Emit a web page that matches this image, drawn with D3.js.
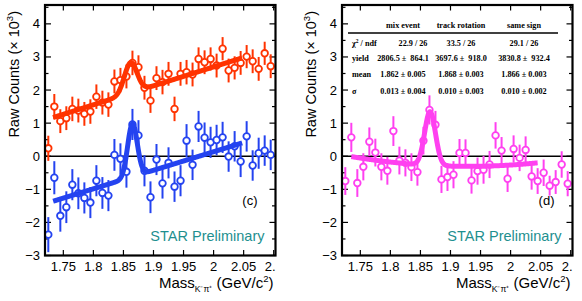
<!DOCTYPE html>
<html>
<head>
<meta charset="utf-8">
<script src="https://cdn.jsdelivr.net/npm/d3@7"></script>
<style>
  body { margin: 0; background: #fff; }
  svg { display: block; }
</style>
</head>
<body>
<script>
// bin centres (GeV/c^2)
var massBins = [1.725,1.735,1.745,1.755,1.765,1.775,1.785,1.795,1.805,1.815,
                1.825,1.835,1.845,1.855,1.865,1.875,1.885,1.895,1.905,1.915,
                1.925,1.935,1.945,1.955,1.965,1.975,1.985,1.995,2.005,2.015,
                2.025,2.035,2.045,2.055,2.065,2.075,2.085,2.095];

// panel (c): same-event (red) and background subtracted (blue), x10^3
var redVals = [0.24,1.50,1.06,1.15,1.43,1.38,1.28,1.35,1.80,1.62,
               1.56,2.26,2.30,2.41,2.82,2.69,2.07,1.68,2.36,2.24,
               2.49,1.43,2.49,2.54,2.47,2.94,2.84,2.94,2.74,3.25,
               2.59,2.67,2.82,3.01,2.87,2.64,3.11,2.72];
var redErr  = [0.38,0.38,0.36,0.36,0.37,0.36,0.36,0.37,0.37,0.36,
               0.37,0.36,0.37,0.36,0.37,0.36,0.36,0.37,0.36,0.37,
               0.36,0.37,0.36,0.37,0.36,0.35,0.36,0.35,0.36,0.35,
               0.36,0.35,0.36,0.35,0.36,0.36,0.35,0.36];
var blueVals = [-2.37,-0.65,-1.80,-1.54,-0.86,-1.12,-1.26,-1.40,-0.74,-1.11,
                -1.19,0.04,-0.08,-0.47,0.96,0.63,-0.44,-1.24,-0.10,-0.82,
                -0.20,-0.92,-0.74,0.47,-0.26,0.90,0.56,0.42,0.49,0.57,
                -0.01,0.30,-0.16,0.60,-0.28,0.09,0.17,0.04];
var blueErr  = [0.53,0.50,0.48,0.48,0.47,0.48,0.47,0.47,0.47,0.48,
                0.47,0.48,0.47,0.48,0.47,0.46,0.47,0.48,0.47,0.46,
                0.47,0.46,0.47,0.50,0.46,0.47,0.46,0.47,0.46,0.47,
                0.46,0.46,0.47,0.46,0.46,0.47,0.46,0.46];

// panel (d): same sign subtracted (magenta)
var magVals = [-0.75,0.57,-0.81,-0.32,0.44,0.11,-0.32,-0.44,0.76,-0.13,
               -0.20,-0.33,-0.48,0.47,1.40,0.95,-0.70,-0.63,-0.56,0.10,
               0.10,-0.73,-0.45,-0.41,-0.25,0.63,0.17,-0.68,0.22,-0.05,
               0.19,-0.61,-0.75,-0.50,-0.89,-0.78,-0.25,-0.83];
var magErr  = [0.42,0.44,0.42,0.41,0.43,0.42,0.41,0.42,0.45,0.42,
               0.41,0.42,0.41,0.42,0.44,0.42,0.41,0.42,0.41,0.42,
               0.41,0.40,0.41,0.42,0.41,0.40,0.41,0.40,0.41,0.40,
               0.41,0.40,0.39,0.40,0.30,0.36,0.40,0.38];

// fit parameters: [x0, bg at x0, slope, curvature, amplitude, mean, sigma, xmin, xmax]
var redFit  = [1.733, 1.17, 5.73, 0,  0.92, 1.862, 0.0105, 1.733, 2.047];
var blueFit = [1.733,-1.36, 5.60, 0,  1.60, 1.865, 0.0080, 1.733, 2.047];
var magFit  = [1.900,-0.30,-0.45, 7.9, 1.62, 1.866, 0.0090, 1.735, 2.045];

var xTicks = [1.75,1.8,1.85,1.9,1.95,2.0,2.05,2.1];
var xTickLabels = ["1.75","1.8","1.85","1.9","1.95","2","2.05","2.1"];
var yTicks = [-3,-2,-1,0,1,2,3,4];
var yMinor = [-2.5,-1.5,-0.5,0.5,1.5,2.5,3.5,4.5];

var tableHeads = ["mix event","track rotation","same sign"];
var tableRows = ["χ2 / ndf","yield","mean","σ"];
var tableCells = [
  ["22.9 / 26","33.5 / 26","29.1 / 26"],
  ["2806.5 ±  864.1","3697.6 ±  918.0","3830.8 ±  932.4"],
  ["1.862 ± 0.005","1.868 ± 0.003","1.866 ± 0.003"],
  ["0.013 ± 0.004","0.010 ± 0.003","0.010 ± 0.002"]
];

var W = 582, H = 301;
var svg = d3.select("body").append("svg").attr("width", W).attr("height", H);

var colRed = "#ff3300", colBlue = "#2443f0", colMag = "#ff40f0", colTeal = "#1e8f8f";
var sans = "'Liberation Sans', Arial, sans-serif";
var serif = "'Liberation Serif', 'Times New Roman', serif";

var y = d3.scaleLinear().domain([-3, 4.57]).range([255.5, 5]);

function fitVal(p, m){
  var dx = m - p[0];
  return p[1] + p[2]*dx + p[3]*dx*dx + p[4]*Math.exp(-0.5*Math.pow((m - p[5])/p[6], 2));
}

function drawPanel(x0, id, series, label){
  var x = d3.scaleLinear().domain([1.7195, 2.103]).range([x0, x0 + 230.5]);
  var g = svg.append("g");
  var L = x.range()[0], R = x.range()[1], T = y.range()[1], B = y.range()[0];

  // zero line
  g.append("line").attr("x1", L).attr("x2", R).attr("y1", y(0)).attr("y2", y(0))
    .attr("stroke", "#000").attr("stroke-width", 1.6);

  // ticks
  var tk = g.append("g").attr("stroke", "#000").attr("stroke-width", 1.2);
  yTicks.forEach(function(v){
    tk.append("line").attr("x1", L).attr("x2", L + 6).attr("y1", y(v)).attr("y2", y(v));
    tk.append("line").attr("x1", R - 6).attr("x2", R).attr("y1", y(v)).attr("y2", y(v));
  });
  yMinor.forEach(function(v){
    if (v > 4.57) return;
    tk.append("line").attr("x1", L).attr("x2", L + 3.5).attr("y1", y(v)).attr("y2", y(v));
    tk.append("line").attr("x1", R - 3.5).attr("x2", R).attr("y1", y(v)).attr("y2", y(v));
  });
  xTicks.forEach(function(v){
    tk.append("line").attr("x1", x(v)).attr("x2", x(v)).attr("y1", B).attr("y2", B - 5.5);
    tk.append("line").attr("x1", x(v)).attr("x2", x(v)).attr("y1", T).attr("y2", T + 5.5);
  });

  // tick labels
  yTicks.forEach(function(v){
    g.append("text").attr("x", L - 5).attr("y", y(v) + 4.5)
      .attr("text-anchor", "end").attr("font-family", sans).attr("font-size", 13)
      .text(v < 0 ? "\u2212" + Math.abs(v) : v);
  });
  var clipId = "clip" + id;
  svg.append("clipPath").attr("id", clipId).append("rect")
    .attr("x", L - 30).attr("y", 255).attr("width", 230 + 30.5).attr("height", 30);
  var xl = g.append("g").attr("clip-path", "url(#" + clipId + ")");
  xTicks.forEach(function(v, i){
    xl.append("text").attr("x", x(v)).attr("y", 271)
      .attr("text-anchor", "middle").attr("font-family", sans).attr("font-size", 13)
      .text(xTickLabels[i]);
  });

  // data points
  series.forEach(function(s){
    var pg = g.append("g");
    massBins.forEach(function(m, i){
      var cx = x(m), cy = y(s.vals[i]);
      var top = y(s.vals[i] + s.err[i]), bot = y(s.vals[i] - s.err[i]);
      var r = 3.3;
      pg.append("line").attr("x1", cx).attr("x2", cx).attr("y1", top).attr("y2", Math.min(cy - r, B))
        .attr("stroke", s.color).attr("stroke-width", 2);
      pg.append("line").attr("x1", cx).attr("x2", cx).attr("y1", cy + r).attr("y2", Math.min(bot, B))
        .attr("stroke", s.color).attr("stroke-width", 2);
      pg.append("circle").attr("cx", cx).attr("cy", cy).attr("r", r)
        .attr("fill", "#fff").attr("stroke", s.color).attr("stroke-width", 1.8);
    });
  });

  // fit curves
  series.forEach(function(s){
    var pts = d3.range(s.fit[7], s.fit[8] + 0.0005, 0.0005).map(function(m){ return [m, fitVal(s.fit, m)]; });
    g.append("path").datum(pts)
      .attr("d", d3.line().x(function(d){ return x(d[0]); }).y(function(d){ return y(d[1]); }))
      .attr("fill", "none").attr("stroke", s.color).attr("stroke-width", 5)
      .attr("stroke-linejoin", "round");
  });

  // frame
  g.append("rect").attr("x", L).attr("y", T).attr("width", R - L).attr("height", B - T)
    .attr("fill", "none").attr("stroke", "#000").attr("stroke-width", 2.2);

  // labels
  g.append("text").attr("x", R - 18).attr("y", 205).attr("text-anchor", "end")
    .attr("font-family", sans).attr("font-size", 13).text(label);
  g.append("text").attr("x", R - 11).attr("y", 241).attr("text-anchor", "end")
    .attr("font-family", sans).attr("font-size", 14.5).attr("fill", colTeal).text("STAR Preliminary");

  // axis titles
  var yt = g.append("text").attr("transform", "translate(" + (L - 26) + ",11) rotate(-90)")
    .attr("text-anchor", "end").attr("font-family", sans).attr("font-size", 14.5);
  yt.append("tspan").text("Raw Counts (\u00d7 10");
  yt.append("tspan").attr("font-size", 9.5).attr("dy", -6).text("3");
  yt.append("tspan").attr("dy", 6).text(")");

  var xt = g.append("text").attr("x", R - 2).attr("y", 288).attr("text-anchor", "end")
    .attr("font-family", sans).attr("font-size", 15);
  xt.append("tspan").text("Mass");
  xt.append("tspan").attr("font-size", 8.5).attr("dy", 4).text("K\u207b\u03c0\u207a");
  xt.append("tspan").attr("dy", -4).text(" (GeV/c");
  xt.append("tspan").attr("font-size", 9.5).attr("dy", -6).text("2");
  xt.append("tspan").attr("dy", 6).text(")");

  return x;
}

drawPanel(45, "c", [
  { vals: redVals,  err: redErr,  color: colRed,  fit: redFit },
  { vals: blueVals, err: blueErr, color: colBlue, fit: blueFit }
], "(c)");

drawPanel(342, "d", [
  { vals: magVals, err: magErr, color: colMag, fit: magFit }
], "(d)");

// fit summary table in panel (d)
var tb = svg.append("g").attr("font-family", serif).attr("font-weight", "bold").attr("font-size", 8.2);
var colX = [403, 461, 524];
tableHeads.forEach(function(h, i){
  tb.append("text").attr("x", colX[i]).attr("y", 28).attr("text-anchor", "middle").text(h);
});
tb.append("line").attr("x1", 348).attr("x2", 558).attr("y1", 33).attr("y2", 33)
  .attr("stroke", "#000").attr("stroke-width", 1.4);
var rowY = [46, 61, 77, 94];
tableRows.forEach(function(r, j){
  var t = tb.append("text").attr("x", 352).attr("y", rowY[j]);
  if (j === 0) {
    t.append("tspan").text("\u03c7");
    t.append("tspan").attr("font-size", 5.5).attr("dy", -3).text("2");
    t.append("tspan").attr("dy", 3).text(" / ndf");
  } else {
    t.text(r);
  }
  tableCells[j].forEach(function(c, i){
    tb.append("text").attr("x", colX[i] + (j === 0 && i === 0 ? 10 : 0)).attr("y", rowY[j])
      .attr("text-anchor", "middle").attr("xml:space", "preserve").style("white-space", "pre").text(c);
  });
});
</script>
</body>
</html>
